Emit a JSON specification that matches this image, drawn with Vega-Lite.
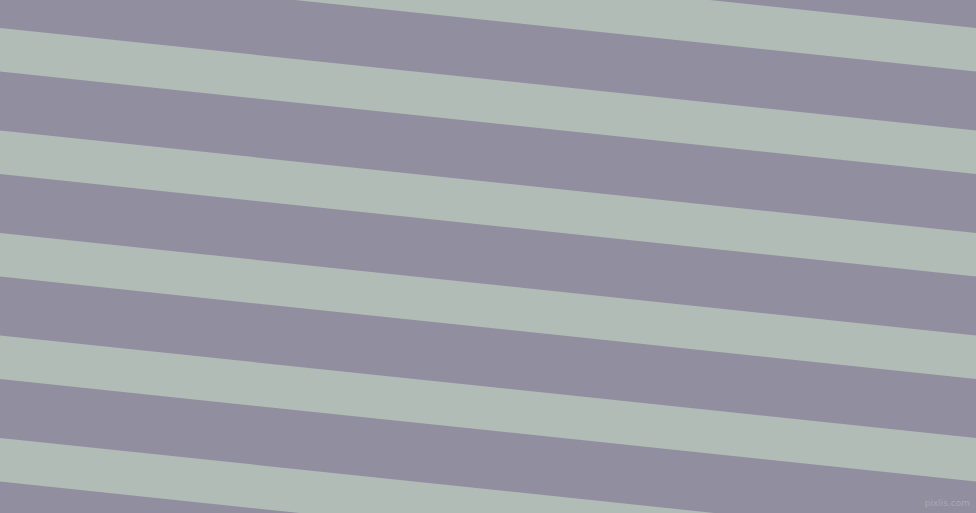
{
  "$schema": "https://vega.github.io/schema/vega-lite/v6.json",
  "width": 976,
  "height": 513,
  "autosize": {"type": "fit", "contains": "padding"},
  "padding": 0,
  "background": "#918f9f",
  "config": {"view": {"stroke": null}},
  "layer": [
    {
      "data": {
        "values": [
          {"stripe": 0, "x": -30, "y": -55.9, "x2": 1006, "y2": 52.9},
          {"stripe": 1, "x": -30, "y": 46.6, "x2": 1006, "y2": 155.4},
          {"stripe": 2, "x": -30, "y": 149.1, "x2": 1006, "y2": 257.9},
          {"stripe": 3, "x": -30, "y": 251.6, "x2": 1006, "y2": 360.4},
          {"stripe": 4, "x": -30, "y": 354.1, "x2": 1006, "y2": 462.9},
          {"stripe": 5, "x": -30, "y": 456.6, "x2": 1006, "y2": 565.4}
        ]
      },
      "mark": {"type": "rule", "clip": true, "color": "#b2bcb7", "strokeWidth": 43.3, "strokeCap": "butt"},
      "encoding": {
        "x": {"field": "x", "type": "quantitative", "scale": {"domain": [0, 976], "nice": false, "zero": false}, "axis": null},
        "y": {"field": "y", "type": "quantitative", "scale": {"domain": [0, 513], "nice": false, "zero": false, "reverse": true}, "axis": null},
        "x2": {"field": "x2"},
        "y2": {"field": "y2"}
      }
    },
    {
      "data": {"values": [{"label": "pixlis.com", "x": 970, "y": 503}]},
      "mark": {"type": "text", "align": "right", "baseline": "middle", "font": "DejaVu Sans", "fontSize": 9, "color": "#a9a8b6"},
      "encoding": {
        "x": {"field": "x", "type": "quantitative", "scale": {"domain": [0, 976], "nice": false, "zero": false}, "axis": null},
        "y": {"field": "y", "type": "quantitative", "scale": {"domain": [0, 513], "nice": false, "zero": false, "reverse": true}, "axis": null},
        "text": {"field": "label"}
      }
    }
  ]
}
